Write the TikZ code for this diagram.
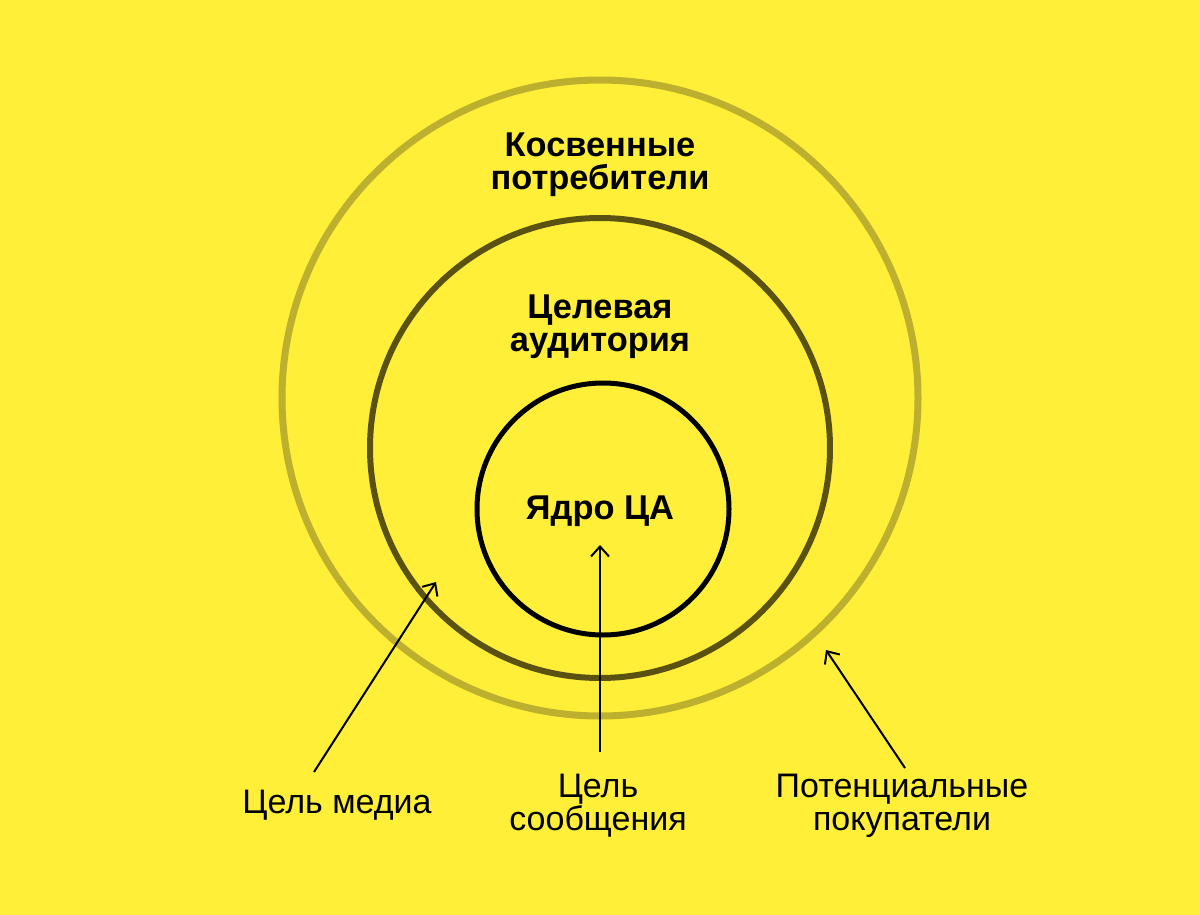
\documentclass[tikz,border=0pt]{standalone}
\usepackage{fontspec}
\setmainfont{Liberation Sans}
\usetikzlibrary{arrows.meta}
\definecolor{bgyellow}{HTML}{FFEF38}
\definecolor{outerc}{HTML}{BDB02E}
\definecolor{midc}{HTML}{5A5212}
\tikzset{
  ring/.style={circle, draw, inner sep=0pt},
  title/.style={font=\fontsize{17.2}{16.5}\selectfont\bfseries, align=center, text=black},
  label/.style={font=\fontsize{17}{16.5}\selectfont, align=center, text=black},
  pointer/.style={line width=1pt, -{Straight Barb[length=5pt,width=9pt,line width=1pt]}}
}
\begin{document}
\begin{tikzpicture}[x=0.5pt,y=-0.5pt]
\fill[bgyellow] (0,0) rectangle (1200,915);
\useasboundingbox (0,0) rectangle (1200,915);
\node[ring, draw=outerc, line width=3.5pt, minimum size=318pt] (outer) at (600,398) {};
\node[ring, draw=midc, line width=3pt, minimum size=230pt] (mid) at (600,448) {};
\node[ring, draw=black, line width=2.5pt, minimum size=126pt] (inner) at (603,509) {};
\node[title] (t1) at (600,165) {Косвенные\\потребители};
\node[title] (t2) at (600,327) {Целевая\\аудитория};
\node[title] (t3) at (600,511) {Ядро ЦА};
\node[label] (l1) at (337,805) {Цель медиа};
\node[label] (l2) at (598,806) {Цель\\сообщения};
\node[label] (l3) at (902,806) {Потенциальные\\покупатели};
\coordinate (a1s) at (314,772);
\coordinate (a1e) at (436,582);
\coordinate (a2s) at (600,752);
\coordinate (a2e) at (600,545);
\coordinate (a3s) at (905,768);
\coordinate (a3e) at (826,650);
\draw[pointer] (a1s) -- (a1e);
\draw[pointer] (a2s) -- (a2e);
\draw[pointer] (a3s) -- (a3e);
\end{tikzpicture}
\end{document}
